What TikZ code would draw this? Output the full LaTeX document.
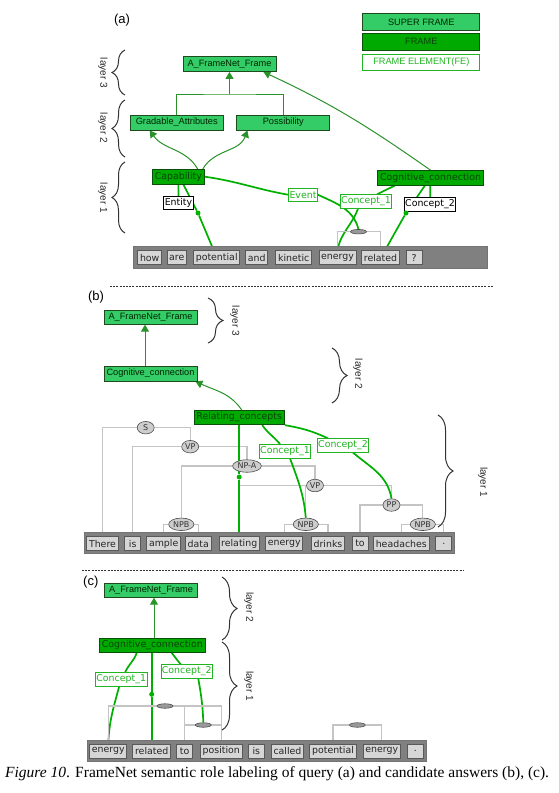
\documentclass[tikz,border=0pt]{standalone}
\usepackage{fontspec}
\setmainfont{Liberation Serif}
\newfontfamily\arialFam{Liberation Sans}
\newfontfamily\lucidaFam{DejaVu Sans}
\usetikzlibrary{positioning, arrows.meta, shapes.geometric, decorations.pathreplacing, backgrounds}

\definecolor{superfill}{HTML}{33CC66}
\definecolor{superline}{HTML}{1E4A1E}
\definecolor{framefill}{HTML}{00AA00}
\definecolor{frameline}{HTML}{0B4F0B}
\definecolor{frametext}{HTML}{0A440A}
\definecolor{fegreen}{HTML}{22B522}
\definecolor{linkgreen}{HTML}{00B000}
\definecolor{isagreen}{HTML}{2A922A}
\definecolor{treegray}{HTML}{C4C4C4}
\definecolor{bargray}{HTML}{808080}
\definecolor{wordfill}{HTML}{D6D6D6}
\definecolor{ovalfill}{HTML}{CDCDCD}

\tikzset{
  superBox/.style={rectangle, draw=superline, fill=superfill, text=black!85!green,
    font=\arialFam\fontsize{9.2}{10}\selectfont, minimum width=93pt, minimum height=15pt,
    inner sep=1pt, line width=0.8pt},
  frameBox/.style={rectangle, draw=frameline, fill=framefill, text=frametext,
    font=\lucidaFam\fontsize{9.4}{10}\selectfont, minimum height=14.5pt,
    inner xsep=2.5pt, inner ysep=1pt, line width=0.8pt},
  feBox/.style={rectangle, draw=fegreen, fill=white, text=fegreen,
    font=\lucidaFam\fontsize{9.4}{10}\selectfont, minimum height=13.5pt,
    inner xsep=1pt, inner ysep=0.5pt, line width=0.8pt},
  feBoxPlain/.style={feBox, draw=black, text=black},
  legendBox/.style={minimum width=117pt, minimum height=16.5pt,
    font=\arialFam\fontsize{9.2}{10}\selectfont},
  wordBar/.style={rectangle, draw=black!55, fill=bargray, inner sep=0pt, line width=0.8pt},
  wordBox/.style={rectangle, draw=black!65, fill=wordfill, text=black!85,
    font=\lucidaFam\fontsize{9.4}{10}\selectfont, minimum height=14pt, minimum width=16pt,
    inner xsep=2.2pt, inner ysep=0.5pt, line width=0.8pt},
  synNode/.style={ellipse, draw=black!70, fill=ovalfill, text=black!80,
    font=\lucidaFam\fontsize{8}{9}\selectfont, inner xsep=0.8pt, inner ysep=0pt,
    minimum height=12.5pt, minimum width=17pt, line width=0.6pt},
  spanMark/.style={ellipse, draw=black!70, fill=black!40, minimum width=16pt,
    minimum height=4.5pt, inner sep=0pt, line width=0.6pt},
  targetDot/.style={circle, fill=linkgreen, inner sep=0pt, minimum size=5pt},
  feLink/.style={draw=linkgreen, line width=1.7pt},
  isaLine/.style={draw=isagreen, line width=1pt},
  inheritArrow/.style={isaLine, -{Triangle[width=8pt,length=7pt]}},
  parseLine/.style={draw=treegray, line width=1.3pt},
  layerBrace/.style={decorate, decoration={brace, amplitude=#1}, draw=black!80, line width=1pt},
  layerBrace/.default=15pt,
  layerName/.style={font=\arialFam\fontsize{10}{12}\selectfont, rotate=-90, text=black!85},
  panelName/.style={font=\arialFam\fontsize{13}{15}\selectfont},
  separator/.style={draw=black!80, line width=0.6pt, dash pattern=on 2pt off 1.2pt}
}

\begin{document}
\begin{tikzpicture}[x=1pt, y=1pt]
\useasboundingbox (0,0) rectangle (558,-793);

%Legend
\node[superBox, legendBox] (legSuper) at (421.3,-22) {SUPER FRAME};
\node[frameBox, legendBox] (legFrame) at (421.3,-41.7) {FRAME};
\node[feBox, legendBox] (legFE) at (421.3,-62.3) {FRAME ELEMENT(FE)};

%Query (a) nodes
\node[panelName] (panelA) at (122,-19.7) {(a)};
\node[superBox] (fnA) at (229.5,-64) {A\_FrameNet\_Frame};
\node[superBox] (gradA) at (176.7,-122.5) {Gradable\_Attributes};
\node[superBox] (possA) at (283.3,-122.5) {Possibility};
\node[frameBox] (capA) at (178.3,-176.7) {Capability};
\node[frameBox] (cogA) at (430.5,-177.8) {Cognitive\_connection};
\node[feBoxPlain] (entA) at (178.5,-203) {Entity};
\node[feBox] (evA) at (303,-194.7) {Event};
\node[feBox] (c1A) at (366,-201.5) {Concept\_1};
\node[feBoxPlain] (c2A) at (430,-204.5) {Concept\_2};
\node[spanMark] (spanA) at (358.5,-231.7) {};
\node[targetDot] (potDotA) at (198,-213) {};
\node[targetDot] (relDotA) at (406,-213) {};

%Query (a) words
\node[wordBar, minimum width=354.7pt, minimum height=22pt] (barA) at (310.3,-257) {};
\node[wordBox] (wHowA) at (149.7,-257.7) {how};
\node[wordBox] (wAreA) at (176.8,-257.7) {are};
\node[wordBox] (wPotentialA) at (216.7,-257.7) {potential};
\node[wordBox] (wAndA) at (256.7,-257.7) {and};
\node[wordBox] (wKineticA) at (293.7,-257.7) {kinetic};
\node[wordBox] (wEnergyA) at (337.5,-257.7) {energy};
\node[wordBox] (wRelatedA) at (380.5,-257.7) {related};
\node[wordBox] (wMarkA) at (414.2,-257.7) {?};

%Layers (a)
\draw[layerBrace=13pt] (125,-95) -- (125,-50);
\draw[layerBrace=13pt] (125,-157) -- (125,-100);
\draw[layerBrace=13pt] (125,-233) -- (125,-162);
\node[layerName] (layThreeA) at (103,-73) {layer 3};
\node[layerName] (layTwoA) at (103,-128) {layer 2};
\node[layerName] (layOneA) at (103,-198) {layer 1};

%Answer (b) nodes
\draw[separator] (110,-286.7) -- (493,-286.7);
\node[panelName] (panelB) at (96,-297.5) {(b)};
\node[superBox, minimum height=13.5pt] (fnB) at (150.5,-317.5) {A\_FrameNet\_Frame};
\node[superBox] (cogB) at (150.5,-373.5) {Cognitive\_connection};
\node[frameBox] (relcB) at (239.2,-417.5) {Relating\_concepts};
\node[feBox] (c1B) at (285,-451.2) {Concept\_1};
\node[feBox] (c2B) at (343,-445.5) {Concept\_2};
\node[synNode] (sS) at (145.7,-427.7) {S};
\node[synNode] (sVPa) at (190.2,-446.7) {VP};
\node[synNode] (sNPA) at (247,-466) {NP-A};
\node[synNode] (sVPb) at (315,-485.5) {VP};
\node[synNode] (sPP) at (391.5,-505) {PP};
\node[synNode] (sNPBa) at (181.3,-524.3) {NPB};
\node[synNode] (sNPBb) at (305.8,-524.3) {NPB};
\node[synNode] (sNPBc) at (422.8,-524.3) {NPB};
\node[targetDot] (relDotB) at (239.2,-477) {};

%Answer (b) words
\node[wordBar, minimum width=370pt, minimum height=20.7pt] (barB) at (269,-543) {};
\node[wordBox] (wThereB) at (102.5,-543.7) {There};
\node[wordBox] (wIsB) at (132.7,-543.7) {is};
\node[wordBox] (wAmpleB) at (163.7,-543.7) {ample};
\node[wordBox] (wDataB) at (198.3,-543.7) {data};
\node[wordBox] (wRelatingB) at (239.2,-543.7) {relating};
\node[wordBox] (wEnergyB) at (284.2,-543.7) {energy};
\node[wordBox] (wDrinksB) at (328,-543.7) {drinks};
\node[wordBox] (wToB) at (360,-543.7) {to};
\node[wordBox] (wHeadachesB) at (401.3,-543.7) {headaches};
\node[wordBox] (wDotB) at (443.8,-543.7) {.};

%Layers (b)
\draw[layerBrace] (208,-298) -- (208,-343);
\draw[layerBrace] (332,-348) -- (332,-403);
\draw[layerBrace] (438,-415) -- (438,-527);
\node[layerName] (layThreeB) at (235,-321) {layer 3};
\node[layerName] (layTwoB) at (358,-374) {layer 2};
\node[layerName] (layOneB) at (483,-482) {layer 1};

%Answer (c) nodes
\draw[separator] (82,-570.7) -- (463,-570.7);
\node[panelName] (panelC) at (90.8,-582) {(c)};
\node[superBox, minimum height=14pt] (fnC) at (151,-590.3) {A\_FrameNet\_Frame};
\node[frameBox] (cogC) at (152.3,-645.3) {Cognitive\_connection};
\node[feBox] (c1C) at (121.2,-679.2) {Concept\_1};
\node[feBox] (c2C) at (186.7,-671.5) {Concept\_2};
\node[spanMark] (spanOneC) at (165,-706) {};
\node[spanMark] (spanTwoC) at (203.3,-725) {};
\node[spanMark] (spanThreeC) at (357.4,-725) {};
\node[targetDot] (relDotC) at (151.7,-694.3) {};

%Answer (c) words
\node[wordBar, minimum width=339pt, minimum height=21.7pt] (barC) at (257.2,-750.8) {};
\node[wordBox] (wEnergyC) at (108.3,-751.3) {energy};
\node[wordBox] (wRelatedC) at (151.7,-751.3) {related};
\node[wordBox] (wToC) at (184.7,-751.3) {to};
\node[wordBox] (wPositionC) at (221.3,-751.3) {position};
\node[wordBox] (wIsC) at (256.3,-751.3) {is};
\node[wordBox] (wCalledC) at (287.5,-751.3) {called};
\node[wordBox] (wPotentialC) at (333,-751.3) {potential};
\node[wordBox] (wEnergyTwoC) at (381.8,-751.3) {energy};
\node[wordBox] (wDotC) at (415.3,-751.3) {.};

%Layers (c)
\draw[layerBrace] (222,-577) -- (222,-640);
\draw[layerBrace] (222,-642) -- (222,-730);
\node[layerName] (layTwoC) at (249,-607) {layer 2};
\node[layerName] (layOneC) at (249,-686) {layer 1};

%Caption
\node[anchor=base west, inner sep=0pt, font=\fontsize{15.5}{18}\selectfont] (caption) at (5,-777.5)
  {\textit{Figure 10}. FrameNet semantic role labeling of query (a) and candidate answers (b), (c).};

\begin{scope}[on background layer]
  %Links (a)
  \coordinate (jA) at (229.5,-94);
  \draw[isaLine] (gradA.north) |- (jA) -| (possA.north);
  \draw[inheritArrow] (jA) -- (fnA.south);
  \draw[inheritArrow] ([xshift=-7pt]capA.north east) to[out=120,in=-55] ([xshift=20pt]gradA.south west);
  \draw[inheritArrow] ([xshift=-2pt]capA.north east) to[out=60,in=-110] ([xshift=11pt]possA.south west);
  \draw[inheritArrow] (cogA.north) to[out=145,in=-25] ([xshift=-13pt]fnA.south east);
  \draw[feLink] (capA) -- (entA);
  \draw[feLink] ([xshift=5pt]capA.south) -- (potDotA) -- ([xshift=-3pt]wPotentialA.north);
  \draw[feLink] (capA.east) to[out=-8,in=170] (evA.west);
  \draw[feLink] (evA.east) to[out=-25,in=105] (spanA.north);
  \draw[feLink] ([xshift=-35.5pt]cogA.south) -- ([xshift=11pt]c1A.north);
  \draw[feLink] ([xshift=-8pt]c1A.south) to[out=-110,in=80] (wEnergyA.north);
  \draw[feLink] (cogA) -- (c2A);
  \draw[feLink] ([xshift=-5.5pt]cogA.south) -- (relDotA) -- ([xshift=4.5pt]wRelatedA.north);
  \draw[parseLine] (wEnergyA.north) |- (spanA) -| (wRelatedA.north);

  %Links (b)
  \draw[inheritArrow] ([xshift=-5.5pt]cogB.north) -- ([xshift=-5.5pt]fnB.south);
  \draw[inheritArrow] ([xshift=2.5pt]relcB.north) to[out=125,in=-25] ([xshift=-2pt]cogB.south east);
  \draw[parseLine] (wThereB.north) |- (sS) -| (sVPa);
  \draw[parseLine] (wIsB.north) |- (sVPa) -| (sNPA);
  \draw[parseLine] (sNPBa) |- (sNPA) -| (sVPb);
  \draw[parseLine] (wRelatingB.north) |- (sVPb) -| (sPP);
  \draw[parseLine] (sNPBb) -- (sNPBb |- sVPb);
  \draw[parseLine] (wToB.north) |- (sPP) -| (sNPBc);
  \draw[parseLine] (wAmpleB.north) |- (sNPBa) -| (wDataB.north);
  \draw[parseLine] (wEnergyB.north) |- (sNPBb) -| (wDrinksB.north);
  \draw[parseLine] (wHeadachesB.north) |- (sNPBc) -| (wDotB.north);
  \draw[feLink] (relcB) -- (relDotB) -- (wRelatingB.north);
  \draw[feLink] ([xshift=23pt]relcB.south) to[out=-55,in=130] ([xshift=-5pt]c1B.north);
  \draw[feLink] ([xshift=5pt]c1B.south) to[out=-70,in=95] (sNPBb.north);
  \draw[feLink] (relcB.south east) to[out=-10,in=155] ([xshift=-15pt]c2B.north);
  \draw[feLink] ([xshift=10pt]c2B.south) to[out=-40,in=100] (sPP.north);

  %Links (c)
  \draw[inheritArrow] ([xshift=1.7pt]cogC.north) -- ([xshift=1.7pt]cogC.north |- fnC.south);
  \draw[feLink] ([xshift=-15.6pt]cogC.south) to[out=-110,in=65] ([xshift=4pt]c1C.north);
  \draw[feLink] ([xshift=-2pt]c1C.south) to[out=-105,in=88] (wEnergyC.north);
  \draw[feLink] (relDotC |- cogC.south) -- (relDotC) -- (wRelatedC.north);
  \draw[feLink] ([xshift=19.4pt]cogC.south) to[out=-50,in=130] ([xshift=-6pt]c2C.north);
  \draw[feLink] ([xshift=11.6pt]c2C.south) to[out=-80,in=92] (spanTwoC.north);
  \draw[parseLine] (wEnergyC.north) |- (spanOneC) -| (wPositionC.north);
  \draw[parseLine] (wToC.north) -- (wToC.north |- spanOneC);
  \draw[parseLine] (wToC.north |- spanTwoC) -- (wPositionC.north |- spanTwoC);
  \draw[parseLine] (wPotentialC.north) |- (spanThreeC) -| (wEnergyTwoC.north);
\end{scope}

\end{tikzpicture}
\end{document}
